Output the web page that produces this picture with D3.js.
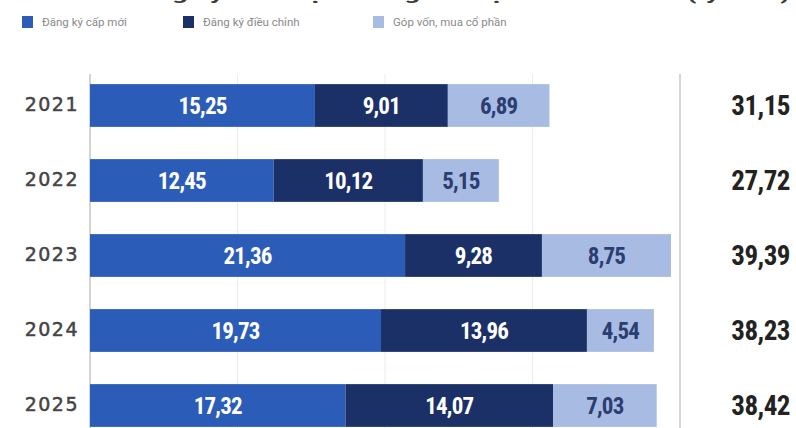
<!DOCTYPE html>
<html lang="vi">
<head>
<meta charset="utf-8">
<script src="https://cdn.jsdelivr.net/npm/d3@7"></script>
<style>
  html, body { margin: 0; padding: 0; background: #fff; }
  svg { display: block; }
</style>
</head>
<body>
<svg id="chart" width="796" height="428"></svg>
<script>
// FDI registered into Vietnam by component, billion USD
const years = ["2021", "2022", "2023", "2024", "2025"];
const newReg = [15.25, 12.45, 21.36, 19.73, 17.32];
const adjusted = [9.01, 10.12, 9.28, 13.96, 14.07];
const capitalContrib = [6.89, 5.15, 8.75, 4.54, 7.03];
const totals = [31.15, 27.72, 39.39, 38.23, 38.42];
const seriesNames = ["Đăng ký cấp mới", "Đăng ký điều chỉnh", "Góp vốn, mua cổ phần"];
const gridTicks = [10, 20, 30, 40];
const titleText = "Vốn FDI đăng ký vào Việt Nam giai đoạn 2021 - 2025 (tỷ USD)";

const colors = ["#2b5cb8", "#1b3067", "#a8bbe2"];
const labelColors = ["#ffffff", "#ffffff", "#2c3d72"];

const svg = d3.select("#chart");
const W = 796, H = 428;

const x = d3.scaleLinear().domain([0, 40]).range([90, 680]);
const y = d3.scaleBand().domain(years).range([68, 443]).paddingInner(0.43).paddingOuter(0.215);

const fmt = v => d3.format(".2f")(v).replace(".", ",");
const condensed = "'Liberation Sans Narrow', 'Roboto Condensed', sans-serif";

// Title (runs past the top edge)
svg.append("text")
  .attr("x", 20).attr("y", 0)
  .attr("font-family", "Roboto, sans-serif")
  .attr("font-weight", 700)
  .attr("font-size", 17)
  .attr("fill", "#3a3a3a")
  .attr("textLength", 770)
  .attr("lengthAdjust", "spacingAndGlyphs")
  .text(titleText);

// Legend
const legendX = [22, 183, 373];
const legend = svg.append("g");
seriesNames.forEach((name, i) => {
  legend.append("rect")
    .attr("x", legendX[i]).attr("y", 16)
    .attr("width", 11).attr("height", 12)
    .attr("fill", colors[i]);
  legend.append("text")
    .attr("x", legendX[i] + 20).attr("y", 26)
    .attr("font-family", "Roboto, sans-serif")
    .attr("font-size", 11.5)
    .attr("fill", "#8a8a8a")
    .text(name);
});

// Grid lines
const grid = svg.append("g");
grid.selectAll("line").data(gridTicks).join("line")
  .attr("x1", d => x(d)).attr("x2", d => x(d))
  .attr("y1", 74).attr("y2", H)
  .attr("stroke", d => d === 40 ? "#d6d6d6" : "#ececec")
  .attr("stroke-width", d => d === 40 ? 2 : 1);

// Baseline axis with year labels
const axis = svg.append("g").attr("transform", `translate(${x(0)},0)`)
  .call(d3.axisLeft(y).tickSize(0).tickPadding(11));
axis.select(".domain").attr("stroke", "#d4d4d4").attr("stroke-width", 2)
  .attr("d", `M0,74V${H}`);
axis.selectAll("text")
  .attr("font-family", "'DejaVu Sans', sans-serif")
  .attr("font-size", 19)
  .attr("letter-spacing", 1.5)
  .attr("fill", "#444")
  .attr("stroke", "#444")
  .attr("stroke-width", 0.5)
  .attr("dy", "0.28em");

// Stacked bars
const rows = years.map((yr, i) => ({ year: yr, vals: [newReg[i], adjusted[i], capitalContrib[i]], total: totals[i] }));
const segs = [];
rows.forEach(r => {
  let acc = 0;
  r.vals.forEach((v, k) => {
    segs.push({ year: r.year, k, v, x0: acc, x1: acc + v });
    acc += v;
  });
});

svg.append("g").selectAll("rect").data(segs).join("rect")
  .attr("x", d => x(d.x0))
  .attr("width", d => x(d.x1) - x(d.x0))
  .attr("y", d => y(d.year))
  .attr("height", y.bandwidth())
  .attr("fill", d => colors[d.k]);

svg.append("g").selectAll("text").data(segs).join("text")
  .attr("x", d => (x(d.x0) + x(d.x1)) / 2)
  .attr("y", d => y(d.year) + y.bandwidth() / 2)
  .attr("dy", "0.36em")
  .attr("text-anchor", "middle")
  .attr("font-family", condensed)
  .attr("font-weight", 700)
  .attr("font-size", 23)
  .attr("letter-spacing", -0.8)
  .attr("fill", d => labelColors[d.k])
  .text(d => fmt(d.v));

// Totals
svg.append("g").selectAll("text").data(rows).join("text")
  .attr("x", 790)
  .attr("y", d => y(d.year) + y.bandwidth() / 2)
  .attr("dy", "0.36em")
  .attr("text-anchor", "end")
  .attr("font-family", condensed)
  .attr("font-weight", 700)
  .attr("font-size", 27)
  .attr("letter-spacing", -0.5)
  .attr("fill", "#222")
  .text(d => fmt(d.total));
</script>
</body>
</html>
